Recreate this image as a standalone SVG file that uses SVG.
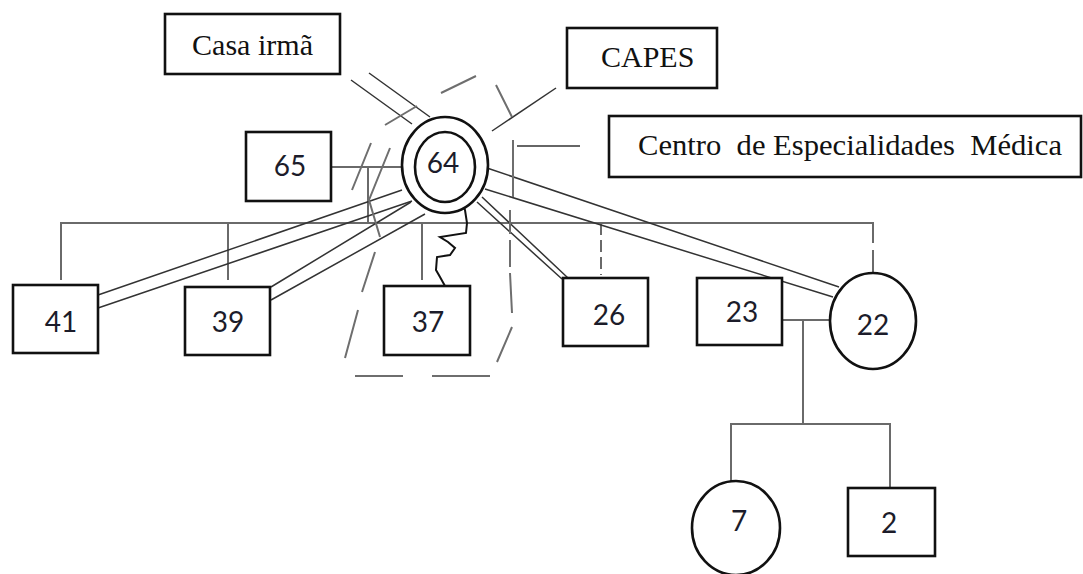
<svg xmlns="http://www.w3.org/2000/svg" width="1083" height="574" viewBox="0 0 1083 574">
  <style>
    .box { fill: #fff; stroke: #111; stroke-width: 2.6; }
    .ring { fill: #fff; stroke: #111; stroke-width: 2.6; }
    .num { font-family: Lato, "Liberation Sans", sans-serif; font-size: 28px; fill: #1c1c2a; text-anchor: middle; }
    .lbl { font-family: "Liberation Serif", serif; font-size: 30px; fill: #111; }
    .kin { fill: none; stroke: #6a6a6a; stroke-width: 2; }
    .tie { fill: none; stroke: #333; stroke-width: 1.5; }
    .bound { fill: none; stroke: #6e6e6e; stroke-width: 2; }
    .zig { fill: none; stroke: #111; stroke-width: 2; stroke-linejoin: miter; }
  </style>
  <rect width="1083" height="574" fill="#fff"/>

  <g id="connectors">
    <!-- sibling line and drops -->
    <path class="kin" d="M61,280 V223 H873 V243 M873,250 V273"/>
    <path class="kin" d="M228,223 V280 M422,223 V280"/>
    <path class="kin" d="M601,223 V275" stroke-dasharray="12 5"/>
    <!-- 65 to 64 -->
    <path class="kin" d="M331,167 H402 M368,167 V222"/>
    <!-- couple 23 / 22 and their children -->
    <path class="kin" d="M782,320 H829 M803,320 V424 M731,482 V424 H890 V488"/>

    <!-- 64 to 41 -->
    <path class="tie" d="M98,295 L402,190 M98,308 L412,201"/>
    <!-- 64 to 39 -->
    <path class="tie" d="M271,287 L411,202 M271,300 L425,214"/>
    <!-- 64 to 26 -->
    <path class="tie" d="M477,202 L562,279 M482,197 L568,278"/>
    <!-- 64 to 22 -->
    <path class="tie" d="M487,168 L839,287 M485,189 L833,297"/>
    <!-- 64 to Casa irmã -->
    <path class="tie" d="M351,80 L412,124 M369,73 L430,117"/>
    <!-- 64 to CAPES -->
    <path class="tie" d="M492,131 L556,88"/>
    <!-- 64 to Centro de Especialidades -->
    <path class="tie" d="M517,146 H580"/>
    <!-- 64 to 37: zigzag -->
    <polyline class="zig" points="463,206 465,210 467,223 466,233 440,237 448,242 455,248 450,255 437,257 436,270 440,277 445,286"/>

    <!-- household boundary, dashed -->
    <path class="bound" d="M352,190 L371,143 M385,125 L417,106 M441,93 L476,76 M496,85 L512,117 M513,140 V197 M510,210 V234 M510,240 V267 M510,273 L512,313 M512,327 L497,362 M490,376 H432 M403,376 H355 M345,358 L358,310 M362,292 L375,252 M380,237 L369,200 L390,148"/>
  </g>

  <g id="n-casa">
    <rect class="box" x="165" y="14" width="175" height="60" stroke-width="2"/>
    <text class="lbl" x="192" y="55" textLength="121" lengthAdjust="spacingAndGlyphs">Casa irmã</text>
  </g>
  <g id="n-capes">
    <rect class="box" x="567" y="28" width="150" height="60" stroke-width="2"/>
    <text class="lbl" x="601" y="67">CAPES</text>
  </g>
  <g id="n-centro">
    <rect class="box" x="609" y="116" width="472" height="61" stroke-width="2"/>
    <text class="lbl" x="638" y="155" xml:space="preserve" textLength="424" lengthAdjust="spacingAndGlyphs">Centro  de Especialidades  Médica</text>
  </g>

  <g id="n65">
    <rect class="box" x="246" y="132" width="85" height="69"/>
    <text class="num" x="290" y="176">65</text>
  </g>
  <g id="n64">
    <ellipse class="ring" cx="445" cy="165" rx="43" ry="48"/>
    <ellipse class="ring" cx="445" cy="167" rx="30" ry="35"/>
    <text class="num" x="443" y="173">64</text>
  </g>
  <g id="n41">
    <rect class="box" x="13" y="285" width="85" height="68"/>
    <text class="num" x="61" y="332">41</text>
  </g>
  <g id="n39">
    <rect class="box" x="185" y="287" width="85" height="68"/>
    <text class="num" x="228" y="332">39</text>
  </g>
  <g id="n37">
    <rect class="box" x="384" y="286" width="86" height="69"/>
    <text class="num" x="428" y="332">37</text>
  </g>
  <g id="n26">
    <rect class="box" x="563" y="278" width="85" height="68"/>
    <text class="num" x="609" y="325">26</text>
  </g>
  <g id="n23">
    <rect class="box" x="697" y="278" width="85" height="67"/>
    <text class="num" x="742" y="322">23</text>
  </g>
  <g id="n22">
    <ellipse class="ring" cx="873" cy="321" rx="43" ry="48"/>
    <text class="num" x="873" y="335">22</text>
  </g>
  <g id="n7">
    <ellipse class="ring" cx="736" cy="528" rx="44" ry="47"/>
    <text class="num" x="739" y="531">7</text>
  </g>
  <g id="n2">
    <rect class="box" x="848" y="488" width="87" height="68"/>
    <text class="num" x="889" y="533">2</text>
  </g>
</svg>
